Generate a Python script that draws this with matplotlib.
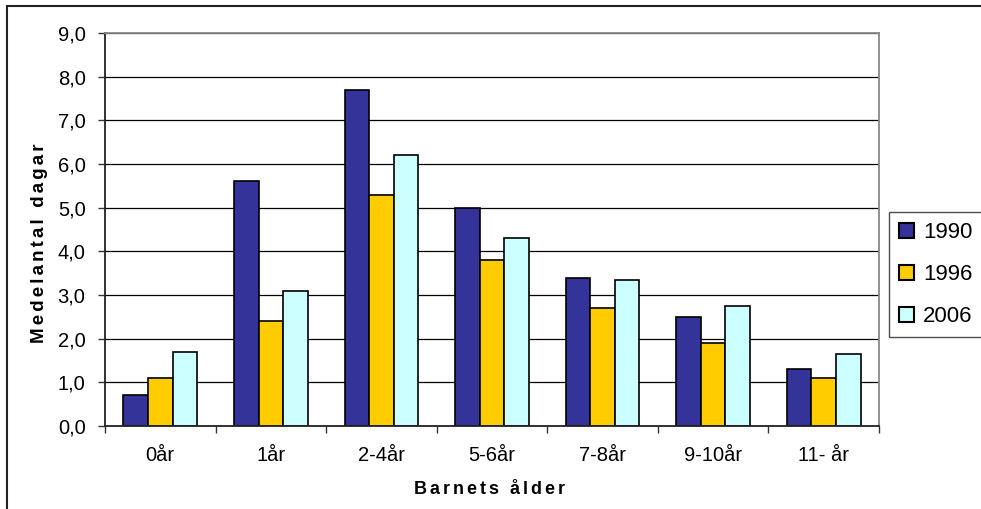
import matplotlib
matplotlib.use('Agg')
import matplotlib.pyplot as plt
import numpy as np
from matplotlib.patches import Rectangle
from matplotlib.ticker import FuncFormatter, FixedLocator

plt.rcParams['font.family'] = ['Liberation Sans', 'DejaVu Sans']

# Data
categories = ['0år', '1år', '2-4år', '5-6år', '7-8år', '9-10år', '11- år']
years = ['1990', '1996', '2006']
v1990 = [0.7, 5.6, 7.7, 5.0, 3.4, 2.5, 1.3]
v1996 = [1.1, 2.4, 5.3, 3.8, 2.7, 1.9, 1.1]
v2006 = [1.7, 3.1, 6.2, 4.3, 3.35, 2.75, 1.65]
colors = ['#333399', '#FFCC00', '#CCFFFF']

W, H = 981, 509
fig = plt.figure(figsize=(W / 100, H / 100), dpi=100)
fig.patch.set_facecolor('white')

# outer chart frame
fig.patches.append(Rectangle((7 / W, -0.1), 1.2, 1 - 6 / H + 0.1,
                             transform=fig.transFigure, fill=False,
                             edgecolor='#222222', linewidth=1.5))

ax = fig.add_axes([105 / W, (H - 426) / H, (879 - 105) / W, (426 - 33) / H])

x = np.arange(len(categories))
bw = 0.222
for i, (vals, col, lab) in enumerate(zip([v1990, v1996, v2006], colors, years)):
    ax.bar(x + (i - 1) * bw, vals, width=bw, color=col, edgecolor='black',
           linewidth=1.2, label=lab, zorder=3)

ax.set_xlim(-0.5, len(categories) - 0.5)
ax.set_ylim(0, 9)
ax.set_yticks(np.arange(0, 9.1, 1))
ax.yaxis.set_major_formatter(FuncFormatter(lambda v, p: f'{v:.1f}'.replace('.', ',')))
ax.grid(axis='y', color='black', linewidth=0.9, zorder=0)

# ticks between categories, labels at centres
ax.xaxis.set_major_locator(FixedLocator(np.arange(-0.5, len(categories), 1)))
ax.xaxis.set_minor_locator(FixedLocator(x))
ax.set_xticklabels([''] * (len(categories) + 1))
ax.set_xticklabels(categories, minor=True)
ax.tick_params(axis='x', which='major', length=5, width=1, direction='out', color='#333333')
ax.tick_params(axis='x', which='minor', length=0, pad=14.5, labelsize=14.5)
ax.tick_params(axis='y', length=5, width=1, direction='out', pad=9, labelsize=14.5,
               color='#333333')

for side in ['left', 'bottom']:
    ax.spines[side].set_color('#222222')
    ax.spines[side].set_linewidth(1.3)
for side in ['top', 'right']:
    ax.spines[side].set_color('#888888')
    ax.spines[side].set_linewidth(1.3)
ax.spines['bottom'].set_zorder(4)

# spaced-out bold axis titles (small spaces between letters)
def spaced(s):
    return '\u2006'.join(s)

fig.text(490 / W, 1 - 489 / H, spaced('Barnets ålder'),
         ha='center', va='center', fontsize=13, fontweight='bold')
fig.text(40 / W, 1 - 243 / H, spaced('Medelantal dagar'), ha='center', va='center',
         rotation=90, fontsize=13.5, fontweight='bold')

leg = fig.legend(loc='upper left', bbox_to_anchor=(889 / W, 1 - 212 / H),
                 fontsize=16, frameon=True, fancybox=False, shadow=False,
                 handlelength=0.68, handleheight=0.68, handletextpad=0.4,
                 labelspacing=0.95, borderpad=0.45, borderaxespad=0)
leg.get_frame().set_edgecolor('#222222')
leg.get_frame().set_linewidth(1.0)
for p in leg.get_patches():
    p.set_linewidth(1.5)

fig.savefig('out.png', dpi=100, facecolor='white')
